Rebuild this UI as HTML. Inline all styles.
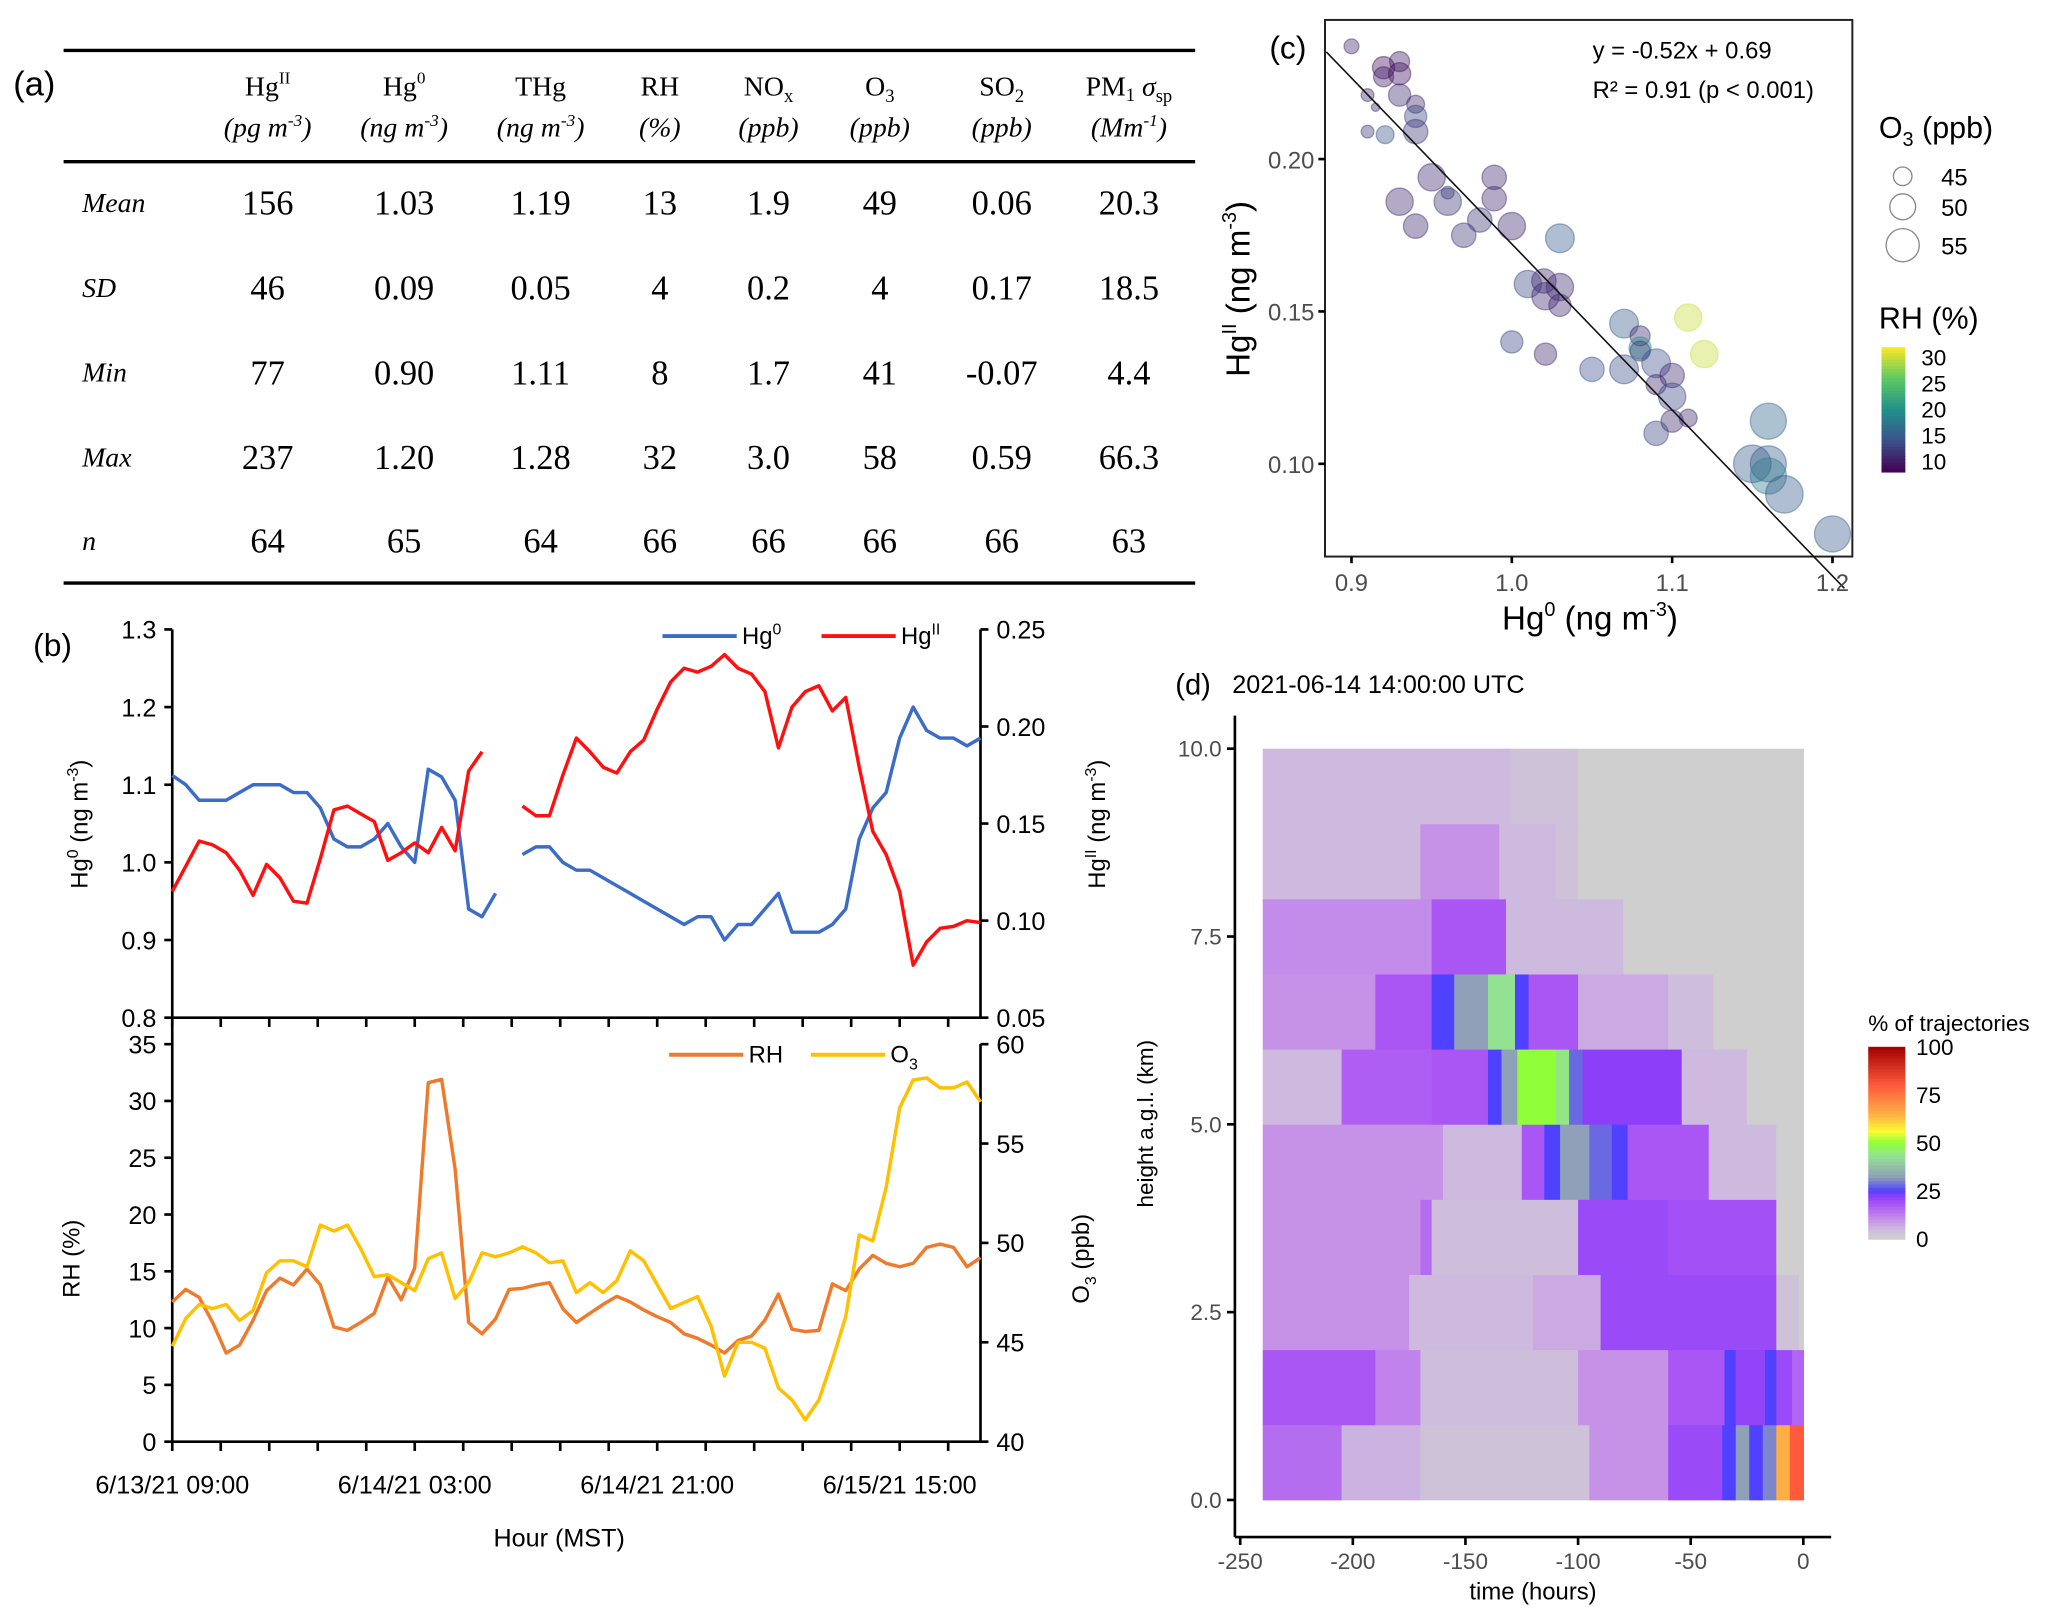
<!DOCTYPE html>
<html><head><meta charset="utf-8"><title>Hg figure</title>
<style>
html,body{margin:0;padding:0;background:#fff;}
svg{display:block;}
.serif{font-family:"Liberation Serif",serif;}
.sans{font-family:"Liberation Sans",sans-serif;}
.nar{font-family:"Liberation Sans Narrow","Liberation Sans",sans-serif;}
</style></head>
<body>
<svg id="fig" xmlns="http://www.w3.org/2000/svg" width="2067" height="1610" viewBox="0 0 1560 1215">
<rect x="0" y="0" width="1560" height="1215" fill="#fff"/>
<!-- Panel (a) table -->
<g id="tbl" class="serif">
 <text x="10" y="72" class="sans" font-size="26">(a)</text>
 <line x1="48" y1="38" x2="902" y2="38" stroke="#000" stroke-width="2.5"/>
 <line x1="48" y1="122" x2="902" y2="122" stroke="#000" stroke-width="2.5"/>
 <line x1="48" y1="440" x2="902" y2="440" stroke="#000" stroke-width="2.5"/>
 <g font-size="21" text-anchor="middle">
  <text x="202" y="72">Hg<tspan dy="-9" font-size="13">II</tspan></text>
  <text x="305" y="72">Hg<tspan dy="-9" font-size="13">0</tspan></text>
  <text x="408" y="72">THg</text>
  <text x="498" y="72">RH</text>
  <text x="580" y="72">NO<tspan dy="5" font-size="14">x</tspan></text>
  <text x="664" y="72">O<tspan dy="5" font-size="14">3</tspan></text>
  <text x="756" y="72">SO<tspan dy="5" font-size="14">2</tspan></text>
  <text x="852" y="72">PM<tspan dy="4" font-size="14">1</tspan><tspan dy="-4"> </tspan><tspan font-style="italic">σ</tspan><tspan dy="5" font-size="14">sp</tspan></text>
  <g font-style="italic">
  <text x="202" y="103">(pg m<tspan dy="-8" font-size="13">-3</tspan><tspan dy="8">)</tspan></text>
  <text x="305" y="103">(ng m<tspan dy="-8" font-size="13">-3</tspan><tspan dy="8">)</tspan></text>
  <text x="408" y="103">(ng m<tspan dy="-8" font-size="13">-3</tspan><tspan dy="8">)</tspan></text>
  <text x="498" y="103">(%)</text>
  <text x="580" y="103">(ppb)</text>
  <text x="664" y="103">(ppb)</text>
  <text x="756" y="103">(ppb)</text>
  <text x="852" y="103">(Mm<tspan dy="-8" font-size="13">-1</tspan><tspan dy="8">)</tspan></text>
  </g>
 </g>
</g>
<g id="pb"></g>
<g id="pc"></g>
<g id="pd"></g>
</svg>
<script>
// ---------- Table data ----------
const tableRows = ["Mean","SD","Min","Max","n"];
const tableMean = ["156","1.03","1.19","13","1.9","49","0.06","20.3"];
const tableSD   = ["46","0.09","0.05","4","0.2","4","0.17","18.5"];
const tableMin  = ["77","0.90","1.11","8","1.7","41","-0.07","4.4"];
const tableMax  = ["237","1.20","1.28","32","3.0","58","0.59","66.3"];
const tableN    = ["64","65","64","66","66","66","66","63"];

// ---------- Panel b data (hourly, 6/13/21 09:00 onward) ----------
const hg0 = [1.112,1.10,1.08,1.08,1.08,1.09,1.10,1.10,1.10,1.09,1.09,1.07,1.03,1.02,1.02,1.03,1.05,1.02,1.00,1.12,1.11,1.08,0.94,0.93,0.96,null,1.01,1.02,1.02,1.00,0.99,0.99,0.98,0.97,0.96,0.95,0.94,0.93,0.92,0.93,0.93,0.90,0.92,0.92,0.94,0.96,0.91,0.91,0.91,0.92,0.94,1.03,1.07,1.09,1.16,1.20,1.17,1.16,1.16,1.15,1.16];
const hgII = [0.115,0.128,0.141,0.139,0.135,0.126,0.113,0.129,0.122,0.110,0.109,0.132,0.157,0.159,0.155,0.151,0.131,0.135,0.140,0.135,0.148,0.136,0.177,0.187,null,null,0.159,0.154,0.154,0.175,0.194,0.187,0.179,0.176,0.187,0.193,0.209,0.223,0.230,0.228,0.231,0.237,0.230,0.227,0.218,0.189,0.210,0.218,0.221,0.208,0.215,0.179,0.146,0.134,0.115,0.077,0.089,0.096,0.097,0.100,0.099];
const rh = [12.3,13.4,12.7,10.5,7.8,8.5,10.7,13.3,14.4,13.8,15.2,13.8,10.1,9.8,10.5,11.3,14.5,12.5,15.3,31.6,31.9,24.0,10.5,9.5,10.8,13.4,13.5,13.8,14.0,11.7,10.5,11.3,12.1,12.8,12.3,11.6,11.0,10.5,9.5,9.1,8.5,7.8,8.9,9.3,10.7,13.0,9.9,9.7,9.8,13.9,13.3,15.2,16.4,15.7,15.4,15.7,17.1,17.4,17.1,15.4,16.2];
const o3 = [44.8,46.2,46.9,46.7,46.9,46.1,46.6,48.5,49.1,49.1,48.8,50.9,50.6,50.9,49.7,48.3,48.4,48.0,47.6,49.2,49.5,47.2,48.0,49.5,49.3,49.5,49.8,49.5,49.0,49.1,47.5,48.0,47.5,48.1,49.6,49.1,47.9,46.7,47.0,47.3,45.8,43.3,45.0,45.0,44.7,42.7,42.1,41.1,42.1,44.1,46.3,50.4,50.1,52.8,56.8,58.2,58.3,57.8,57.8,58.1,57.1];
const timeLabels = ["6/13/21 09:00","6/14/21 03:00","6/14/21 21:00","6/15/21 15:00"];
const hg0Ticks = [0.8,0.9,1.0,1.1,1.2,1.3];
const hgIITicks = [0.05,0.10,0.15,0.20,0.25];
const rhTicks = [0,5,10,15,20,25,30,35];
const o3Ticks = [40,45,50,55,60];

// ---------- Panel c data ----------
const scHg0 = [0.900,0.920,0.930,0.930,0.920,0.910,0.930,0.940,0.940,0.940,0.910,0.921,0.950,0.989,0.930,0.960,0.960,0.989,0.940,0.970,0.980,1.000,1.030,1.010,1.020,1.030,1.021,1.030,1.070,1.080,1.080,1.080,1.110,1.120,1.000,1.021,1.050,1.070,1.090,1.100,1.090,1.100,1.100,1.110,1.090,1.160,1.150,1.160,1.160,1.170,1.200,0.915];
const scHgII = [0.237,0.230,0.232,0.228,0.227,0.221,0.221,0.218,0.214,0.209,0.209,0.208,0.194,0.194,0.186,0.189,0.186,0.187,0.178,0.175,0.180,0.178,0.174,0.159,0.160,0.158,0.155,0.152,0.146,0.142,0.138,0.137,0.148,0.136,0.140,0.136,0.131,0.131,0.133,0.129,0.126,0.122,0.114,0.115,0.110,0.114,0.100,0.100,0.096,0.090,0.077,0.217];
const scO3 = [42.5,47.5,46,47.5,46,41,47.5,44.5,47.5,49,41,44.5,51,49,51,41,51,49,49,49,49,51,52,51,49,51,51,47.5,52,46,47.5,46,51,51,47.5,47.5,49,52,52,49,46,51,47.5,44.5,49,57,58,57,57,58,57,38];
const scRH = [11,9,10,9,10,11,11,11,13,12,12,14,11,11,11,13,12,11,11,12,12,11,15,13,11,11,11,11,15,11,20,12,30,30,13,11,14,14,14,11,11,13,11,11,13,16,15,15,18,15,15,11];
const fitSlope = -0.52, fitIntercept = 0.69;
const scXTicks = [0.9,1.0,1.1,1.2];
const scYTicks = [0.10,0.15,0.20];
const sizeLegend = [45,50,55];
const rhLegend = [10,15,20,25,30];

// ---------- Panel d data (trajectory heatmap, 1-km bins) ----------
const heightBins = [0,1,2,3,4,5,6,7,8,9];
const segStarts0 = [-240,-205,-170,-95,-60,-36,-30,-24,-18,-12,-6];
const segValues0 = [15,6,3,10,20,25,32,25,30,65,80];
const segStarts1 = [-240,-190,-170,-100,-60,-35,-30,-17,-12,-5];
const segValues1 = [18,12,4,10,18,25,21,25,20,16];
const segStarts2 = [-240,-175,-120,-90,-12,-2];
const segValues2 = [10,5,7,20,3,0];
const segStarts3 = [-240,-170,-165,-100,-60,-12];
const segValues3 = [10,15,4,20,19,0];
const segStarts4 = [-240,-160,-125,-115,-108,-95,-85,-78,-42,-12];
const segValues4 = [10,5,18,25,32,28,25,18,5,0];
const segStarts5 = [-240,-205,-165,-140,-134,-127,-110,-104,-98,-54,-25];
const segValues5 = [5,17,18,25,32,50,44,28,22,5,0];
const segStarts6 = [-240,-190,-165,-155,-140,-128,-122,-100,-60,-40];
const segValues6 = [10,18,25,32,43,25,18,7,4,0];
const segStarts7 = [-240,-165,-132,-80];
const segValues7 = [11,18,5,0];
const segStarts8 = [-240,-170,-135,-110,-100];
const segValues8 = [5,10,5,3,0];
const segStarts9 = [-240,-130,-100];
const segValues9 = [5,3,0];
const timeTicks = [-250,-200,-150,-100,-50,0];
const heightTicks = [0,2.5,5,7.5,10];
const pctTicks = [0,25,50,75,100];

const NS = 'http://www.w3.org/2000/svg';
function mk(tag, attrs, parent){const e=document.createElementNS(NS,tag);for(const k in attrs)e.setAttribute(k,attrs[k]);parent.appendChild(e);return e;}
function txt(parent, x, y, s, size, anchor, extra){const t=mk('text',Object.assign({x:x,y:y,'font-size':size,'text-anchor':anchor||'start'},extra||{}),parent);t.textContent=s;return t;}

// ---------- Table ----------
const tbl = document.getElementById('tbl');
const colX = [202,305,408,498,580,664,756,852];
const rowVals = [tableMean,tableSD,tableMin,tableMax,tableN];
const rowY = [162,226,290,354,417];
tableRows.forEach((r,i)=>{
  const lab = txt(tbl, 62, rowY[i]-2, r, 21, 'start', {'font-style':'italic'});
  
  
  rowVals[i].forEach((v,j)=>{
    const c = txt(tbl, colX[j], rowY[i], v, 26, 'middle');
    
    
  });
});

// ---------- Panel b ----------
const pb = document.getElementById('pb');
const bx0=130, bx1=740, hours=60;
const xH = h => bx0 + h*(bx1-bx0)/hours;
const yHg0 = v => 768 - (v-0.8)/0.5*293;
const yHgII = v => 768 - (v-0.05)/0.2*293;
const yRH = v => 1088 - v/35*300;
const yO3 = v => 1088 - (v-40)/20*300;
const tickFont = {'font-family':'"Liberation Sans Narrow","Liberation Sans",sans-serif','fill':'#000'};
function axLine(p,x1,y1,x2,y2,name){const l=mk('line',{x1:x1,y1:y1,x2:x2,y2:y2,stroke:'#000','stroke-width':2},p);return l;}
axLine(pb,bx0,475,bx0,1088,'b-left-axis');
axLine(pb,bx1,475,bx1,768,'b-top-right-axis');
axLine(pb,bx1,788,bx1,1088,'b-bottom-right-axis');
axLine(pb,bx0,768,bx1,768,'b-top-x-axis');
axLine(pb,bx0,1088,bx1,1088,'b-bottom-x-axis');
for(let k=0;k<=hours/3.6+0.01;k++){
  const x=xH(k*3.6);
  axLine(pb,x,768,x,775,'x-tick-top');
  axLine(pb,x,1088,x,1095,'x-tick-bottom');
}
timeLabels.forEach((s,i)=>{const t=txt(pb,xH(i*18),1127,s,19,'middle',tickFont);});
hg0Ticks.forEach(v=>{axLine(pb,bx0-6,yHg0(v),bx0,yHg0(v),'hg0-tick');const t=txt(pb,bx0-12,yHg0(v)+7,v.toFixed(1),19,'end',tickFont);});
hgIITicks.forEach(v=>{axLine(pb,bx1,yHgII(v),bx1+6,yHgII(v),'hgii-tick');const t=txt(pb,bx1+12,yHgII(v)+7,v.toFixed(2),19,'start',tickFont);});
rhTicks.forEach(v=>{axLine(pb,bx0-6,yRH(v),bx0,yRH(v),'rh-tick');const t=txt(pb,bx0-12,yRH(v)+7,String(v),19,'end',tickFont);});
o3Ticks.forEach(v=>{axLine(pb,bx1,yO3(v),bx1+6,yO3(v),'o3-tick');const t=txt(pb,bx1+12,yO3(v)+7,String(v),19,'start',tickFont);});
function series(arr, yf, color, name){
  let d='', pen=false;
  arr.forEach((v,i)=>{ if(v===null){pen=false;return;} d+=(pen?'L':'M')+xH(i).toFixed(1)+' '+yf(v).toFixed(1)+' '; pen=true; });
  const p=mk('path',{d:d,fill:'none',stroke:color,'stroke-width':2.6,'stroke-linejoin':'round'},pb);
  
  
}
series(hg0,yHg0,'#3a6cc8','hg0-line');
series(hgII,yHgII,'#ff1010','hgii-line');
series(rh,yRH,'#ef7a2c','rh-line');
series(o3,yO3,'#ffc000','o3-line');
// legends
function legItem(x,y,color,label,sub,name){
  const l=mk('line',{x1:x,y1:y,x2:x+56,y2:y,stroke:color,'stroke-width':3},pb);
  
  
  const t=txt(pb,x+60,y+6,label,18,'start',tickFont);
  
  
  if(sub){const s=mk('tspan',{dy:sub[1],'font-size':12},t);s.textContent=sub[0];}
}
legItem(500,480,'#3a6cc8','Hg',['0','-7'],'legend-hg0');
legItem(620,480,'#ff1010','Hg',['II','-7'],'legend-hgii');
legItem(505,796,'#ef7a2c','RH',null,'legend-rh');
legItem(612,796,'#ffc000','O',['3','5'],'legend-o3');
(function(){
  const a=txt(pb,25,495,'(b)',24,'start',{'font-family':'"Liberation Sans",sans-serif'});
  
  const f={'font-family':'"Liberation Sans",sans-serif'};
  const t1=txt(pb,0,0,'Hg',18,'middle',Object.assign({transform:'translate(66,622) rotate(-90)'},f));
  
  let s=mk('tspan',{dy:-7,'font-size':12},t1);s.textContent='0';
  s=mk('tspan',{dy:7},t1);s.textContent=' (ng m';
  s=mk('tspan',{dy:-7,'font-size':12},t1);s.textContent='-3';
  s=mk('tspan',{dy:7},t1);s.textContent=')';
  const t2=txt(pb,0,0,'Hg',18,'middle',Object.assign({transform:'translate(834,622) rotate(-90)'},f));
  
  s=mk('tspan',{dy:-7,'font-size':12},t2);s.textContent='II';
  s=mk('tspan',{dy:7},t2);s.textContent=' (ng m';
  s=mk('tspan',{dy:-7,'font-size':12},t2);s.textContent='-3';
  s=mk('tspan',{dy:7},t2);s.textContent=')';
  const t3=txt(pb,0,0,'RH (%)',18,'middle',Object.assign({transform:'translate(60,950) rotate(-90)'},f));
  
  const t4=txt(pb,0,0,'O',18,'middle',Object.assign({transform:'translate(822,950) rotate(-90)'},f));
  
  s=mk('tspan',{dy:5,'font-size':12},t4);s.textContent='3';
  s=mk('tspan',{dy:-5},t4);s.textContent=' (ppb)';
  const t5=txt(pb,422,1167,'Hour (MST)',19,'middle',tickFont);
  
})();

// ---------- Panel c ----------
const pc = document.getElementById('pc');
const cx0=1000,cx1=1398,cy0=15,cy1=420;
const xC = v => 1020 + (v-0.9)*1210;
const yC = v => 120 - (v-0.20)*2300;
const rC = o => Math.max(1.5, 7 + (o-45)*0.55);
const vir = [[68,1,84],[59,82,139],[33,145,140],[94,201,98],[253,231,37]];
function viridis(rhv){let t=(rhv-8)/24;t=Math.max(0,Math.min(1,t));const s=t*4;const i=Math.min(3,Math.floor(s));const f=s-i;const a=vir[i],b=vir[i+1];return 'rgb('+[0,1,2].map(k=>Math.round(a[k]+(b[k]-a[k])*f)).join(',')+')';}
const frame=mk('rect',{x:cx0,y:cy0,width:cx1-cx0,height:cy1-cy0,fill:'none',stroke:'#222','stroke-width':1.5},pc);

const cg=mk('g',{},pc);


scHg0.forEach((v,i)=>{
  const col=viridis(scRH[i]);
  const c=mk('circle',{cx:xC(v),cy:yC(scHgII[i]),r:rC(scO3[i]),fill:col,'fill-opacity':0.4,stroke:col,'stroke-opacity':0.45,'stroke-width':1},cg);
  
  
});
(function(){
  const xa=cx0+1, xb=1392;
  const va=(xa-1020)/1210+0.9, vb=(xb-1020)/1210+0.9;
  const l=mk('line',{x1:xa,y1:yC(fitSlope*va+fitIntercept+0.005),x2:xb,y2:yC(fitSlope*vb+fitIntercept-0.003),stroke:'#111','stroke-width':1.2},pc);
  
})();
const grayF={'font-family':'"Liberation Sans Narrow","Liberation Sans",sans-serif',fill:'#4d4d4d'};
scXTicks.forEach(v=>{axLine(pc,xC(v),cy1,xC(v),cy1+5,'c-x-tick');const t=txt(pc,xC(v),cy1+26,v.toFixed(1),18,'middle',grayF);});
scYTicks.forEach(v=>{axLine(pc,cx0-5,yC(v),cx0,yC(v),'c-y-tick');const t=txt(pc,cx0-8,yC(v)+7,v.toFixed(2),18,'end',grayF);});
(function(){
  const f={'font-family':'"Liberation Sans Narrow","Liberation Sans",sans-serif'};
  let t=txt(pc,958,44,'(c)',24,'start',f);
  t=txt(pc,1202,44,'y = -0.52x + 0.69',18,'start',f);
  t=txt(pc,1202,74,'R² = 0.91 (p < 0.001)',18,'start',f);
  t=txt(pc,1200,475,'Hg',25,'middle',f);
  let s=mk('tspan',{dy:-10,'font-size':15},t);s.textContent='0';
  s=mk('tspan',{dy:10},t);s.textContent=' (ng m';
  s=mk('tspan',{dy:-10,'font-size':15},t);s.textContent='-3';
  s=mk('tspan',{dy:10},t);s.textContent=')';
  t=txt(pc,0,0,'Hg',25,'middle',Object.assign({transform:'translate(943,218) rotate(-90)'},f));
  s=mk('tspan',{dy:-10,'font-size':15},t);s.textContent='II';
  s=mk('tspan',{dy:10},t);s.textContent=' (ng m';
  s=mk('tspan',{dy:-10,'font-size':15},t);s.textContent='-3';
  s=mk('tspan',{dy:10},t);s.textContent=')';
  t=txt(pc,1418,104,'O',23,'start',f);
  s=mk('tspan',{dy:6,'font-size':15},t);s.textContent='3';
  s=mk('tspan',{dy:-6},t);s.textContent=' (ppb)';
  const ly=[133,156,185];
  sizeLegend.forEach((o,i)=>{
    const c=mk('circle',{cx:1436,cy:ly[i],r:rC(o),fill:'none',stroke:'#888','stroke-width':1},pc);
    
    const tt=txt(pc,1465,ly[i]+7,String(o),18,'start',f);
  });
  t=txt(pc,1418,248,'RH (%)',23,'start',f);
  const top=262,bot=356,nb=40;
  for(let k=0;k<nb;k++){
    const v=32-(k+0.5)*24/nb;
    const r=mk('rect',{x:1420,y:top+k*(bot-top)/nb,width:18,height:(bot-top)/nb+0.6,fill:viridis(v)},pc);
    
  }
  rhLegend.forEach(v=>{
    const y=top+(32-v)/24*(bot-top);
    const tt=txt(pc,1450,y+6,String(v),17,'start',f);
  });
})();

// ---------- Panel d ----------
const pd = document.getElementById('pd');
const xD = t => 1361 + t*1.7;
const yD = h => 1132 - h*56.7;
const cmapStops = [[0,[207,207,207]],[5,[206,186,222]],[10,[198,146,232]],[18,[170,86,245]],[22,[140,62,248]],[25,[80,64,255]],[32,[143,160,184]],[43,[146,226,146]],[50,[144,255,58]],[56,[255,250,50]],[65,[255,173,70]],[80,[255,90,60]],[100,[160,0,0]]];
function cmap(v){for(let i=0;i<cmapStops.length-1;i++){const a=cmapStops[i],b=cmapStops[i+1];if(v<=b[0]){const f=(v-a[0])/(b[0]-a[0]);return 'rgb('+[0,1,2].map(k=>Math.round(a[1][k]+(b[1][k]-a[1][k])*f)).join(',')+')';}}return 'rgb(160,0,0)';}
const allStarts=[segStarts0,segStarts1,segStarts2,segStarts3,segStarts4,segStarts5,segStarts6,segStarts7,segStarts8,segStarts9];
const allValues=[segValues0,segValues1,segValues2,segValues3,segValues4,segValues5,segValues6,segValues7,segValues8,segValues9];
const hg=mk('g',{},pd);


heightBins.forEach((hb,ri)=>{
  const st=allStarts[ri], vals=allValues[ri];
  st.forEach((s,j)=>{
    const e = j+1<st.length ? st[j+1] : 0;
    const r=mk('rect',{x:xD(s),y:yD(hb+1),width:xD(e)-xD(s)+0.5,height:yD(hb)-yD(hb+1)+0.3,fill:cmap(vals[j])},hg);
    
    
  });
});
axLine(pd,932,540,932,1160,'d-y-axis');
axLine(pd,932,1160,1382,1160,'d-x-axis');
const dF={'font-family':'"Liberation Sans",sans-serif',fill:'#4d4d4d'};
timeTicks.forEach(v=>{axLine(pd,xD(v),1160,xD(v),1166,'d-x-tick');const t=txt(pd,xD(v),1184,String(v),17,'middle',dF);});
heightTicks.forEach(v=>{axLine(pd,926,yD(v),932,yD(v),'d-y-tick');const t=txt(pd,922,yD(v)+6,v.toFixed(1),17,'end',dF);});
(function(){
  const f={'font-family':'"Liberation Sans",sans-serif'};
  let t=txt(pd,887,524,'(d)',22,'start',f);
  t=txt(pd,930,523,'2021-06-14 14:00:00 UTC',19,'start',f);
  t=txt(pd,1157,1207,'time (hours)',18,'middle',f);
  t=txt(pd,0,0,'height a.g.l. (km)',17,'middle',Object.assign({transform:'translate(870,848) rotate(-90)'},f));
  t=txt(pd,1410,778,'% of trajectories',17,'start',f);
  const top=790,bot=935,nb=60;
  for(let k=0;k<nb;k++){
    const v=100-(k+0.5)*100/nb;
    const r=mk('rect',{x:1410,y:top+k*(bot-top)/nb,width:28,height:(bot-top)/nb+0.6,fill:cmap(v)},pd);
    
  }
  pctTicks.forEach(v=>{
    const y=top+(100-v)/100*(bot-top);
    const tt=txt(pd,1446,y+6,String(v),17,'start',f);
  });
})();
</script>
</body></html>
